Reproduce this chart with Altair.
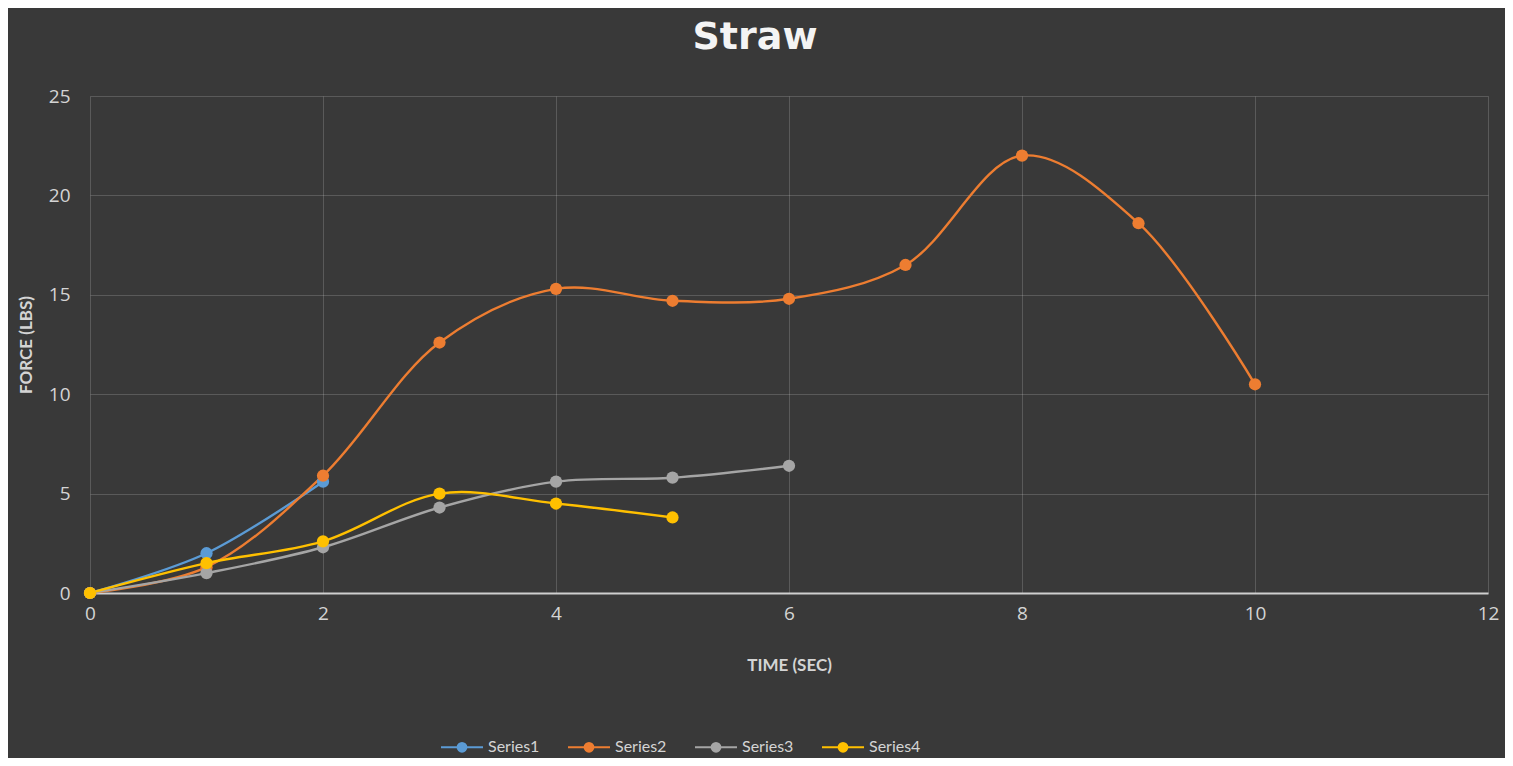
import altair as alt
import pandas as pd

series_names = ["Series1", "Series2", "Series3", "Series4"]
series1_x = [0, 1, 2]
series1_y = [0, 2.0, 5.6]
series2_x = [0, 1, 2, 3, 4, 5, 6, 7, 8, 9, 10]
series2_y = [0, 1.3, 5.9, 12.6, 15.3, 14.7, 14.8, 16.5, 22.0, 18.6, 10.5]
series3_x = [0, 1, 2, 3, 4, 5, 6]
series3_y = [0, 1.0, 2.3, 4.3, 5.6, 5.8, 6.4]
series4_x = [0, 1, 2, 3, 4, 5]
series4_y = [0, 1.5, 2.6, 5.0, 4.5, 3.8]
colors = ["#5b9bd5", "#ed7d31", "#a5a5a5", "#ffc000"]
x_ticks = [0, 2, 4, 6, 8, 10, 12]
y_ticks = [0, 5, 10, 15, 20, 25]

rows = []
for name, xs, ys in zip(series_names,
                        [series1_x, series2_x, series3_x, series4_x],
                        [series1_y, series2_y, series3_y, series4_y]):
    for x, y in zip(xs, ys):
        rows.append({"series": name, "time": x, "force": y})
df = pd.DataFrame(rows)

LABEL_FONT = "Open Sans"
TITLE_FONT = "Lato"
label_color = "#d4d4d4"

# legend symbol: a line with a dot in its middle
legend_path = ("M-1,0L1,0M-0.21,0a0.21,0.21 0 1,0 0.42,0a0.21,0.21 0 1,0 -0.42,0")

color_scale = alt.Scale(domain=series_names, range=colors)

base = alt.Chart(df).encode(
    x=alt.X("time:Q", scale=alt.Scale(domain=[0, 12], nice=False),
            axis=alt.Axis(title="TIME (SEC)", values=x_ticks, titlePadding=34,
                          labelPadding=11, labelFlush=False)),
    y=alt.Y("force:Q", scale=alt.Scale(domain=[0, 25], nice=False),
            axis=alt.Axis(title="FORCE (LBS)", values=y_ticks, titlePadding=13,
                          labelPadding=20)),
    color=alt.Color("series:N", scale=color_scale,
                    legend=alt.Legend(title=None, orient="none", direction="horizontal",
                                      legendX=350, legendY=629,
                                      symbolType=legend_path, symbolSize=1764,
                                      symbolStrokeWidth=2, columnPadding=24,
                                      labelOffset=4,
                                      labelFont=TITLE_FONT, labelFontSize=16,
                                      labelColor=label_color)),
)

lines = base.mark_line(interpolate="catmull-rom", strokeWidth=2.4)
points = base.mark_point(filled=True, size=150, opacity=1)

chart = (lines + points).properties(
    width=1398, height=497,
    title=alt.TitleParams("Straw", font="DejaVu Sans", fontSize=38, fontWeight="bold",
                          color="#f4f4f4", anchor="middle", dx=-34, offset=30),
    autosize=alt.AutoSizeParams(type="none"),
    padding={"left": 82, "top": 88, "right": 17, "bottom": 165},
    background="#393939",
).configure_view(stroke=None).configure_axis(
    gridColor="#ffffff", gridOpacity=0.17, gridWidth=1, domain=False, ticks=False,
    labelFont=LABEL_FONT, labelFontSize=19, labelColor=label_color,
    titleFont=TITLE_FONT, titleFontSize=17, titleFontWeight="bold", titleColor=label_color,
).configure_axisX(domain=True, domainColor="#cfcfcf", domainWidth=2)

chart.save("out.html", embed_options={"renderer": "svg", "actions": False})
